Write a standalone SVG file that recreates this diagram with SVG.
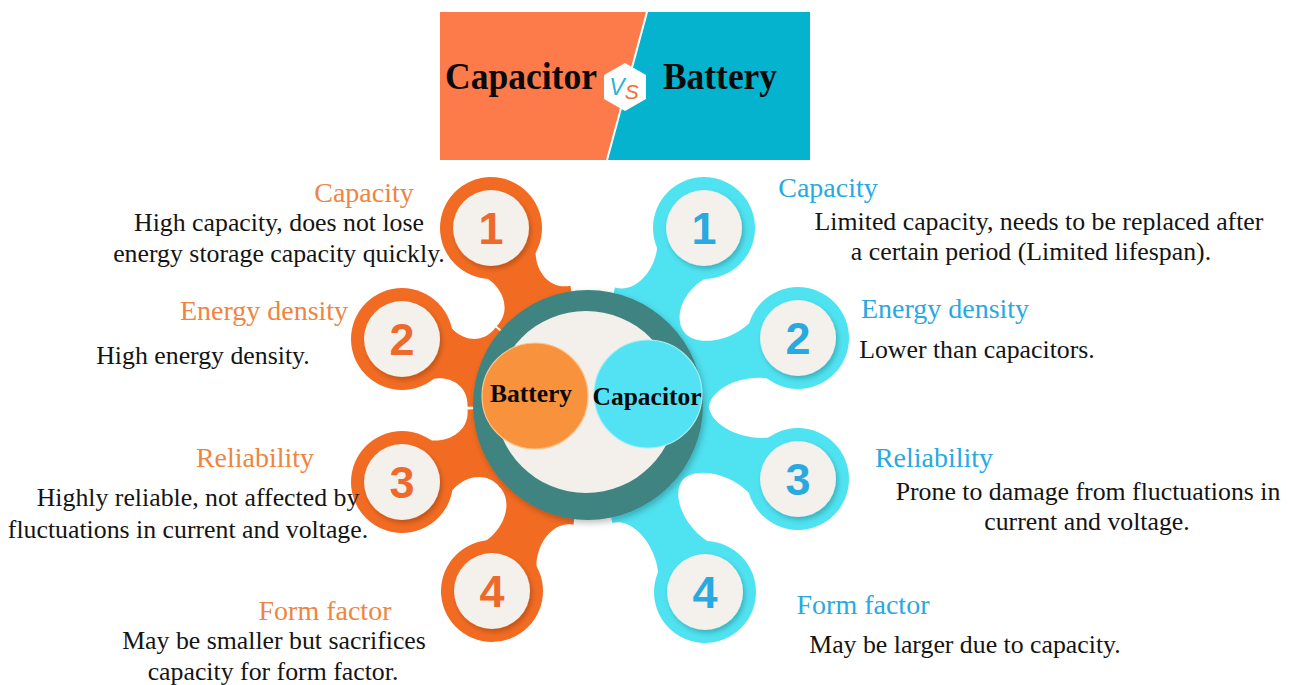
<svg xmlns="http://www.w3.org/2000/svg" width="1290" height="685" viewBox="0 0 1290 685">
<defs>
<style>
.hl{font-family:"Liberation Serif","Times New Roman",serif;font-size:28px;text-anchor:middle}
.ho{fill:#ef8540}
.hc{fill:#27a9e1}
.bd{font-family:"Liberation Serif","Times New Roman",serif;font-size:25.8px;fill:#141414;text-anchor:middle}
.num{font-family:"Liberation Sans",Arial,sans-serif;font-weight:bold;font-size:45px;text-anchor:middle}
.no{fill:#ee6a2c}
.nc{fill:#2aa9e0}
.armo{fill:#f26b22}
.armc{fill:#4fe2f1}
.cream{fill:#f4f1ec;filter:url(#sh)}
.title{font-family:"Liberation Serif","Times New Roman",serif;font-weight:bold;font-size:38px;fill:#0a0a0a;text-anchor:middle}
.hub{font-family:"Liberation Serif","Times New Roman",serif;font-weight:bold;font-size:25.5px;fill:#0a0a0a;text-anchor:middle}
</style>
<filter id="sh" x="-30%" y="-30%" width="160%" height="160%">
<feDropShadow dx="2" dy="3" stdDeviation="2.5" flood-color="#000" flood-opacity="0.22"/>
</filter>
<filter id="sh2" x="-20%" y="-20%" width="140%" height="140%">
<feDropShadow dx="2" dy="3" stdDeviation="3" flood-color="#000" flood-opacity="0.25"/>
</filter>
</defs>
<rect width="1290" height="685" fill="#ffffff"/>

<g id="header">
<polygon points="440,12 647,12 607,160 440,160" fill="#fd7b4a"/>
<polygon points="647,12 810,12 810,160 607,160" fill="#05b3ce"/>
<line x1="647" y1="12" x2="607" y2="160" stroke="#ffffff" stroke-width="2"/>
<polygon points="625,63 646,75 646,99 625,111 604,99 604,75" fill="#ffffff"/>
<text x="624" y="95" font-family="'Liberation Sans',Arial,sans-serif" font-style="italic" font-size="23" text-anchor="middle"><tspan fill="#2ab3d9">V</tspan><tspan fill="#f07040" font-size="21" dy="4">S</tspan></text>
<text class="title" x="521" y="89" textLength="152" lengthAdjust="spacingAndGlyphs">Capacitor</text>
<text class="title" x="720" y="89" textLength="114" lengthAdjust="spacingAndGlyphs">Battery</text>
</g>

<g id="connectors">
<path class="armo" transform="translate(491,228) rotate(61.3)" d="M25,-43 C44,-16 80.8,-16 88.8,-42 L201.8,0 L88.8,42 C80.8,16 44,16 25,43 Z"/>
<path class="armo" transform="translate(402,339) rotate(19.5)" d="M25,-43 C44,-16 76.4,-16 84.4,-42 L197.4,0 L84.4,42 C76.4,16 44,16 25,43 Z"/>
<path class="armo" transform="translate(402,482) rotate(-22.5)" d="M25,-43 C44,-16 80.3,-16 88.3,-42 L201.3,0 L88.3,42 C80.3,16 44,16 25,43 Z"/>
<path class="armo" transform="translate(492,591) rotate(-62.7)" d="M25,-43 C44,-16 88.3,-16 96.3,-42 L209.3,0 L96.3,42 C88.3,16 44,16 25,43 Z"/>
<path class="armc" transform="translate(704,228) rotate(123.2)" d="M25,-43 C44,-16 90.6,-16 98.6,-42 L211.6,0 L98.6,42 C90.6,16 44,16 25,43 Z"/>
<path class="armc" transform="translate(798,338) rotate(162.3)" d="M25,-43 C44,-16 99.4,-16 107.4,-42 L220.4,0 L107.4,42 C99.4,16 44,16 25,43 Z"/>
<path class="armc" transform="translate(798,479) rotate(-160.6)" d="M25,-43 C44,-16 101.7,-16 109.7,-42 L222.7,0 L109.7,42 C101.7,16 44,16 25,43 Z"/>
<path class="armc" transform="translate(705,592) rotate(-122)" d="M25,-43 C44,-16 99.6,-16 107.6,-42 L220.6,0 L107.6,42 C99.6,16 44,16 25,43 Z"/>
</g>

<g id="battery-1">
<circle class="armo" cx="491" cy="228" r="51"/>
<circle class="cream" cx="491" cy="228" r="38"/>
<text class="num no" x="491" y="244">1</text>
</g>
<g id="battery-2">
<circle class="armo" cx="402" cy="339" r="51"/>
<circle class="cream" cx="402" cy="339" r="38"/>
<text class="num no" x="402" y="355">2</text>
</g>
<g id="battery-3">
<circle class="armo" cx="402" cy="482" r="51"/>
<circle class="cream" cx="402" cy="482" r="38"/>
<text class="num no" x="402" y="498">3</text>
</g>
<g id="battery-4">
<circle class="armo" cx="492" cy="591" r="51"/>
<circle class="cream" cx="492" cy="591" r="38"/>
<text class="num no" x="492" y="607">4</text>
</g>
<g id="capacitor-1">
<circle class="armc" cx="704" cy="228" r="51"/>
<circle class="cream" cx="704" cy="228" r="38"/>
<text class="num nc" x="704" y="244">1</text>
</g>
<g id="capacitor-2">
<circle class="armc" cx="798" cy="338" r="51"/>
<circle class="cream" cx="798" cy="338" r="38"/>
<text class="num nc" x="798" y="354">2</text>
</g>
<g id="capacitor-3">
<circle class="armc" cx="798" cy="479" r="51"/>
<circle class="cream" cx="798" cy="479" r="38"/>
<text class="num nc" x="798" y="495">3</text>
</g>
<g id="capacitor-4">
<circle class="armc" cx="705" cy="592" r="51"/>
<circle class="cream" cx="705" cy="592" r="38"/>
<text class="num nc" x="705" y="608">4</text>
</g>

<g id="hub">
<circle cx="588" cy="405" r="115" fill="#3f8481" filter="url(#sh2)"/>
<circle cx="586" cy="402" r="91" fill="#f3f0eb"/>
<circle cx="535" cy="396" r="53" fill="#f8923c" stroke="#fbc48f" stroke-width="1.2"/>
<circle cx="648" cy="394" r="54" fill="#53e2f3" stroke="#a8f0f7" stroke-width="1.2"/>
<text class="hub" x="531" y="402">Battery</text>
<text class="hub" x="647" y="405">Capacitor</text>
</g>

<g id="text-battery">
<text class="hl ho" x="364" y="202">Capacity</text>
<text class="bd" x="279" y="231">High capacity, does not lose</text>
<text class="bd" x="279" y="262">energy storage capacity quickly.</text>
<text class="hl ho" x="264" y="320">Energy density</text>
<text class="bd" x="203" y="364">High energy density.</text>
<text class="hl ho" x="255" y="467">Reliability</text>
<text class="bd" x="198" y="506">Highly reliable, not affected by</text>
<text class="bd" x="188" y="538">fluctuations in current and voltage.</text>
<text class="hl ho" x="325" y="620">Form factor</text>
<text class="bd" x="274" y="649">May be smaller but sacrifices</text>
<text class="bd" x="273" y="680">capacity for form factor.</text>
</g>

<g id="text-capacitor">
<text class="hl hc" x="828" y="197">Capacity</text>
<text class="bd" x="1039" y="230">Limited capacity, needs to be replaced after</text>
<text class="bd" x="1031" y="260">a certain period (Limited lifespan).</text>
<text class="hl hc" x="945" y="318">Energy density</text>
<text class="bd" x="977" y="358">Lower than capacitors.</text>
<text class="hl hc" x="934" y="467">Reliability</text>
<text class="bd" x="1088" y="500">Prone to damage from fluctuations in</text>
<text class="bd" x="1087" y="530">current and voltage.</text>
<text class="hl hc" x="863" y="614">Form factor</text>
<text class="bd" x="965" y="653">May be larger due to capacity.</text>
</g>
</svg>
